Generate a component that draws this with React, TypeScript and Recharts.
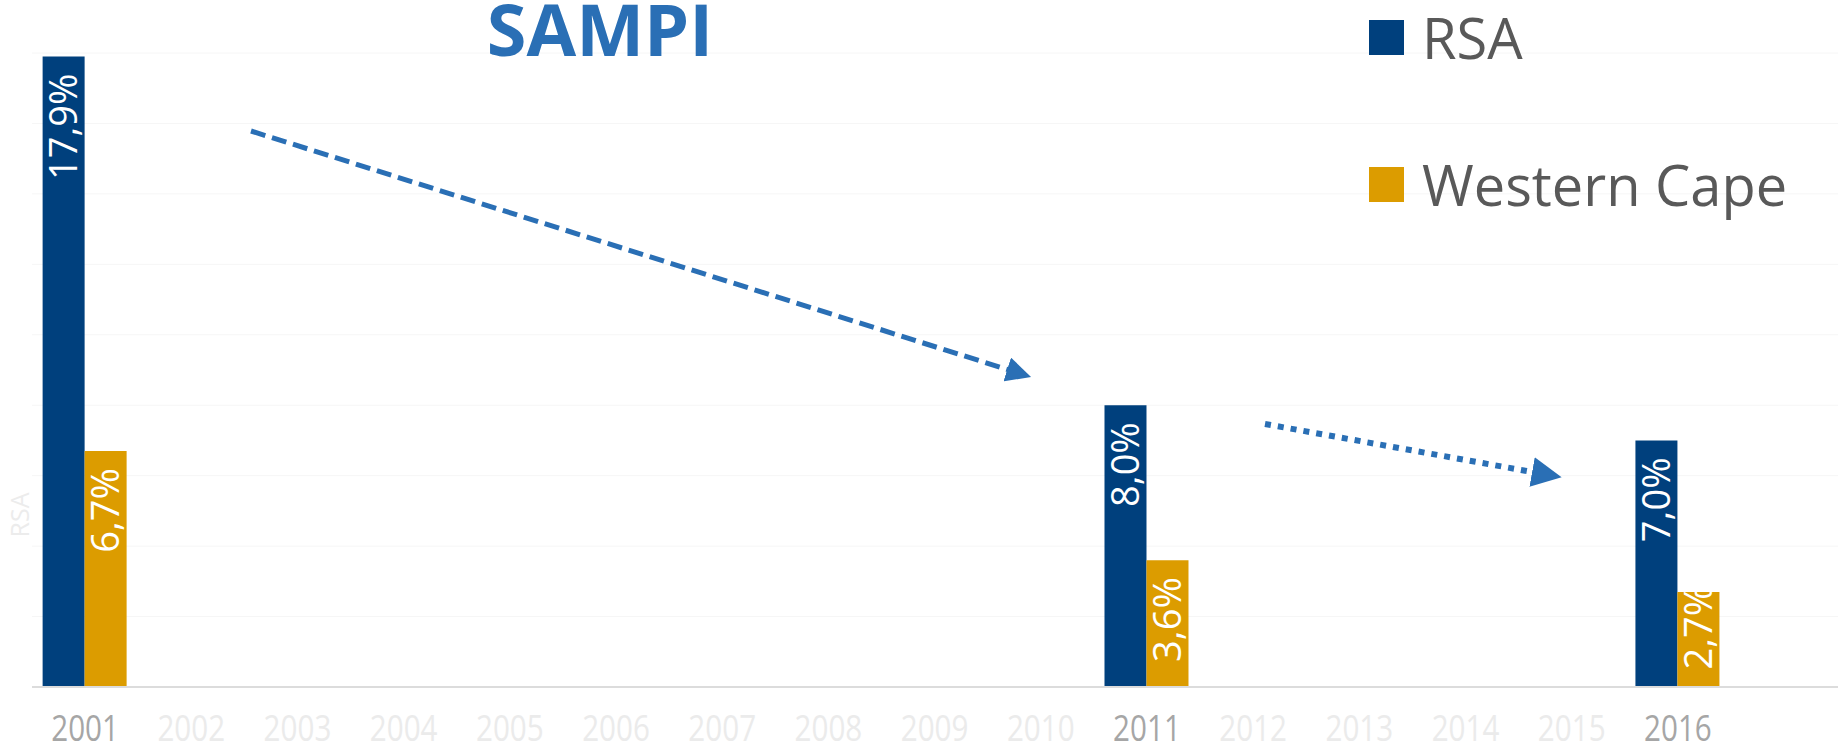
import { BarChart, Bar, XAxis, YAxis, CartesianGrid, LabelList } from 'recharts';

const YEARS = ['2001', '2002', '2003', '2004', '2005', '2006', '2007', '2008', '2009', '2010', '2011', '2012', '2013', '2014', '2015', '2016'];
const RSA = [17.9, null, null, null, null, null, null, null, null, null, 8.0, null, null, null, null, 7.0];
const WESTERN_CAPE = [6.7, null, null, null, null, null, null, null, null, null, 3.6, null, null, null, null, 2.7];
const Y_TICKS = [0, 2, 4, 6, 8, 10, 12, 14, 16, 18];
const SERIES = ['RSA', 'Western Cape'];

const NAVY = '#00407d';
const GOLD = '#dc9c00';
const ARROW = '#2a6fb5';
const FONT = '"Open Sans", sans-serif';
const LABEL_SIZE = 38;

const data = YEARS.map((year, i) => ({ year, rsa: RSA[i], wc: WESTERN_CAPE[i] }));

const fmt = (v: number) => v.toFixed(1).replace('.', ',') + '%';

// rough width of a label in Open Sans, used to keep it inside the bar
function textLen(s: string) {
  let w = 0;
  for (const ch of s) {
    if (ch === ',') w += 0.26;
    else if (ch === '%') w += 0.84;
    else w += 0.572;
  }
  return w * LABEL_SIZE;
}

function BarLabel(props: any) {
  const { x, y, width, height, value } = props;
  if (value == null) return null;
  const s = fmt(value);
  const cx = x + width / 2;
  const base = y + height;
  let end = y + 17;
  const len = textLen(s);
  if (end + len > base - 17) end = base - 17 - len;
  return (
    <text
      x={cx}
      y={end}
      dy="0.36em"
      transform={`rotate(-90, ${cx}, ${end})`}
      textAnchor="end"
      fill="#ffffff"
      fontFamily={FONT}
      fontSize={LABEL_SIZE}
    >
      {s}
    </text>
  );
}

function YearTick(props: any) {
  const { x, payload, index } = props;
  const active = RSA[index] != null || WESTERN_CAPE[index] != null;
  return (
    <text
      transform={`translate(${x}, 741) scale(0.8, 1)`}
      textAnchor="middle"
      fill={active ? '#a6a6a6' : '#ebebeb'}
      fontFamily={FONT}
      fontSize={37}
    >
      {payload.value}
    </text>
  );
}

export default function App() {
  const colors = [NAVY, GOLD];
  return (
    <div style={{ position: 'absolute', left: 0, top: 0, width: 1848, height: 751, background: '#fff', overflow: 'hidden' }}>
      <BarChart
        width={1848}
        height={751}
        data={data}
        margin={{ top: 53, right: 10, bottom: 14, left: 32 }}
        barCategoryGap="10%"
        barGap={0}
      >
        <CartesianGrid vertical={false} stroke="#f6f6f6" strokeWidth={1} />
        <XAxis
          dataKey="year"
          height={50}
          padding={{ left: 0, right: 107 }}
          tickLine={false}
          axisLine={{ stroke: '#dcdcdc', strokeWidth: 2 }}
          tick={<YearTick />}
          interval={0}
        />
        <YAxis hide domain={[0, 18]} ticks={Y_TICKS} />
        <Bar dataKey="rsa" name="RSA" fill={NAVY} isAnimationActive={false}>
          <LabelList dataKey="rsa" content={<BarLabel />} />
        </Bar>
        <Bar dataKey="wc" name="Western Cape" fill={GOLD} isAnimationActive={false}>
          <LabelList dataKey="wc" content={<BarLabel />} />
        </Bar>
      </BarChart>

      {/* legend */}
      <div style={{ position: 'absolute', left: 1369, top: 0, fontFamily: FONT }}>
        {SERIES.map((name, i) => (
          <div key={name} style={{ position: 'absolute', left: 0, top: i * 147, display: 'flex', alignItems: 'center', height: 74, whiteSpace: 'nowrap' }}>
            <div style={{ width: 35, height: 35, background: colors[i], marginRight: 18 }} />
            <span style={{ fontSize: 56, color: '#595959', lineHeight: '74px' }}>{name}</span>
          </div>
        ))}
      </div>

      <svg width={1848} height={751} style={{ position: 'absolute', left: 0, top: 0, pointerEvents: 'none' }}>
        <defs>
          <marker id="head" markerWidth="5" markerHeight="5" refX="1" refY="2.5" orient="auto" markerUnits="strokeWidth">
            <path d="M0,0 L5,2.5 L0,5 z" fill={ARROW} />
          </marker>
        </defs>
        <text x={600} y={56} textAnchor="middle" fontFamily={FONT} fontWeight={700} fontSize={72} fill={ARROW}>
          SAMPI
        </text>
        <text x={20} y={515} transform="rotate(-90, 20, 515)" dy="0.36em" textAnchor="middle" fontFamily={FONT} fontSize={25} fill="#ececec">
          RSA
        </text>
        <line x1={251} y1={131} x2={1012} y2={371} stroke={ARROW} strokeWidth={5} strokeDasharray="15 7" markerEnd="url(#head)" />
        <line x1={1265} y1={424} x2={1538} y2={473} stroke={ARROW} strokeWidth={6} strokeDasharray="6 7" markerEnd="url(#head)" />
      </svg>
    </div>
  );
}
